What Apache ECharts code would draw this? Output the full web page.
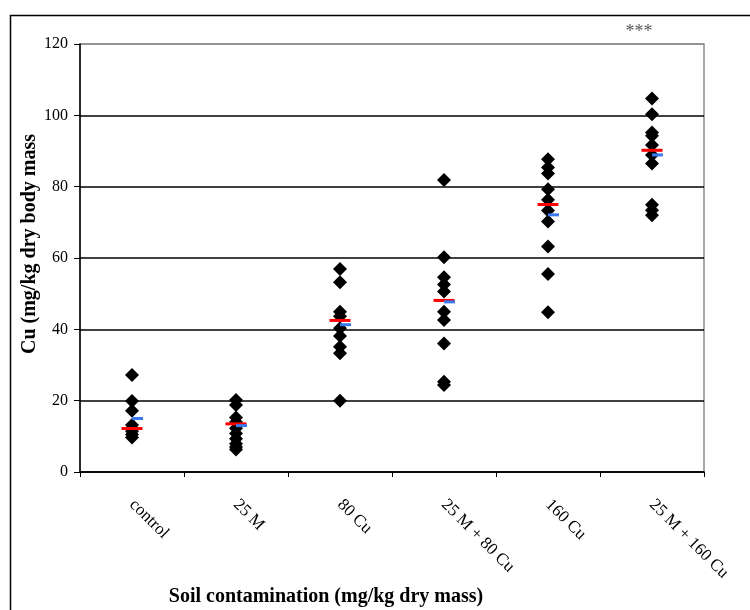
<!DOCTYPE html>
<html>
<head>
<meta charset="utf-8">
<script src="https://cdn.jsdelivr.net/npm/echarts@6/dist/echarts.min.js"></script>
<style>html,body{margin:0;padding:0;background:#fff}#c{width:750px;height:610px}</style>
</head>
<body>
<div id="c"></div>
<script>
var categories = ['control', '25 M', '80 Cu', '25 M + 80 Cu', '160 Cu', '25 M + 160 Cu'];
var controlVals = [27.2, 19.9, 17.2, 13.2, 12.3, 11.4, 10.5, 9.7];
var m25Vals = [20.2, 18.8, 15.3, 14.0, 12.3, 10.8, 9.3, 7.9, 7.0, 6.3];
var cu80Vals = [56.9, 53.2, 44.9, 43.7, 40.3, 38.1, 35.1, 33.3, 20.0];
var m25cu80Vals = [81.9, 60.2, 54.6, 52.6, 50.6, 44.9, 42.6, 36.0, 25.3, 24.4];
var cu160Vals = [87.7, 85.4, 83.7, 79.3, 76.3, 73.3, 70.2, 63.2, 55.5, 44.8];
var m25cu160Vals = [104.7, 100.3, 95.2, 94.3, 91.7, 88.9, 86.5, 74.9, 73.4, 72.0];
var redMarks = [12.2, 13.5, 42.5, 48.1, 75.0, 90.2];
var blueMarks = [15.0, 13.0, 41.3, 47.7, 72.1, 88.9];
var yTicks = [0, 20, 40, 60, 80, 100, 120];

var groups = [controlVals, m25Vals, cu80Vals, m25cu80Vals, cu160Vals, m25cu160Vals];
var points = [];
groups.forEach(function (g, i) { g.forEach(function (v) { points.push([i, v]); }); });
var redData = redMarks.map(function (v, i) { return [i, v]; });
var blueData = blueMarks.map(function (v, i) { return [i, v]; });

var serif = '"Liberation Serif", "DejaVu Serif", serif';
var chart = echarts.init(document.getElementById('c'), null, {renderer: 'canvas'});
chart.setOption({
  animation: false,
  backgroundColor: '#fff',
  grid: {left: 80, right: 46, top: 44, bottom: 138, show: true, borderColor: '#8c8c8c', borderWidth: 1.5},
  xAxis: {
    type: 'category', data: categories, boundaryGap: true,
    axisLine: {lineStyle: {color: '#000', width: 1.5}},
    axisTick: {show: true, length: 5, lineStyle: {color: '#000'}},
    axisLabel: {rotate: -45, margin: 30, color: '#000', fontFamily: serif, fontSize: 17, interval: 0},
    splitLine: {show: false}
  },
  yAxis: {
    type: 'value', min: yTicks[0], max: yTicks[yTicks.length - 1], interval: 20,
    axisLine: {show: true, lineStyle: {color: '#000', width: 1.5}},
    axisTick: {show: true, length: 6, lineStyle: {color: '#000'}},
    axisLabel: {color: '#000', fontFamily: serif, fontSize: 16, margin: 12},
    splitLine: {show: true, lineStyle: {color: ['#000', '#000', '#000', '#000', '#000', '#000', '#8c8c8c'], width: 1.5}}
  },
  series: [
    {type: 'scatter', data: points, symbol: 'diamond', symbolSize: 14, itemStyle: {color: '#000', opacity: 1}, z: 2},
    {type: 'scatter', data: redData, symbol: 'rect', symbolSize: [21, 3], itemStyle: {color: '#ff0000', opacity: 1}, z: 3},
    {type: 'scatter', data: blueData, symbol: 'rect', symbolSize: [11, 3], symbolOffset: [5.5, 0], itemStyle: {color: '#3a7af0', opacity: 1}, z: 4}
  ],
  graphic: [
    {type: 'rect', left: 8, top: 13, shape: {width: 741, height: 620}, style: {fill: 'none', stroke: '#000', lineWidth: 1.5}, silent: true},
    {type: 'text', x: 30, y: 244, rotation: Math.PI / 2, style: {text: 'Cu (mg/kg dry body mass', font: 'bold 20px ' + serif, fill: '#000', textAlign: 'center', textVerticalAlign: 'middle'}},
    {type: 'text', x: 326, y: 597, style: {text: 'Soil contamination (mg/kg dry mass)', font: 'bold 20px ' + serif, fill: '#000', textAlign: 'center', textVerticalAlign: 'middle'}},
    {type: 'text', x: 639, y: 32, style: {text: '***', font: '18px ' + serif, fill: '#555', textAlign: 'center', textVerticalAlign: 'middle'}}
  ]
});
</script>
</body>
</html>
